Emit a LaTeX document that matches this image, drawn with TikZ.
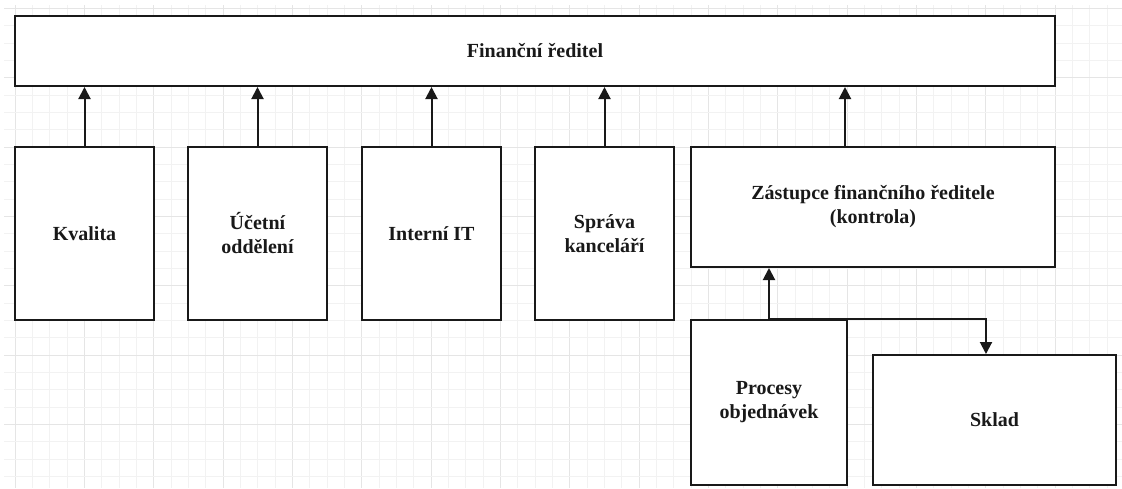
\documentclass[tikz,border=0pt]{standalone}
\usepackage{fontspec}
\setmainfont{Liberation Serif}
\usetikzlibrary{arrows.meta}
\begin{document}
\begin{tikzpicture}[x=1pt,y=-1pt,
  box/.style={draw=black!90, line width=2pt, fill=white, inner sep=0pt, align=center,
    font=\fontsize{20}{24}\selectfont\bfseries, text=black!90},
  arr/.style={line width=2pt, draw=black!90, -{Triangle[width=12pt,length=12pt]}},
  minorgrid/.style={draw=black!5, line width=0.6pt},
  majorgrid/.style={draw=black!10, line width=0.8pt}]
\useasboundingbox (0,0) rectangle (1122,488);
\fill[white] (0,0) rectangle (1122,488);
\begin{scope}
  \clip (4,5) rectangle (1122,488);
  \foreach \i in {0,...,64} {
    \pgfmathtruncatemacro{\m}{mod(\i,4)}
    \ifnum\m=0 \draw[majorgrid] ({15+\i*17.333},5) -- ++(0,483);
    \else \draw[minorgrid] ({15+\i*17.333},5) -- ++(0,483); \fi
  }
  \foreach \i in {-8,...,20} {
    \pgfmathtruncatemacro{\m}{mod(\i+16,4)}
    \ifnum\m=0 \draw[majorgrid] (4,{147+\i*17.333}) -- ++(1118,0);
    \else \draw[minorgrid] (4,{147+\i*17.333}) -- ++(1118,0); \fi
  }
\end{scope}

\node[box, minimum width=1040pt, minimum height=70pt] (top) at (535,51) {Finanční ředitel};
\node[box, minimum width=139pt, minimum height=173pt] (kv) at (84.5,233.5) {Kvalita};
\node[box, minimum width=139pt, minimum height=173pt] (uc) at (257.5,233.5) {Účetní\\oddělení};
\node[box, minimum width=139pt, minimum height=173pt] (it) at (431.5,233.5) {Interní IT};
\node[box, minimum width=139pt, minimum height=173pt] (sp) at (604.5,233.5) {Správa\\kanceláří};
\node[box, minimum width=364pt, minimum height=120pt] (za) at (873,207) {Zástupce finančního ředitele\\(kontrola)};
\node[box, minimum width=156pt, minimum height=165pt] (pr) at (769,402.5) {Procesy\\objednávek};
\node[box, minimum width=243pt, minimum height=130pt] (sk) at (994.5,420) {Sklad};

\draw[arr] (kv.north) -- (kv.north |- top.south);
\draw[arr] (uc.north) -- (uc.north |- top.south);
\draw[arr] (it.north) -- (it.north |- top.south);
\draw[arr] (sp.north) -- (sp.north |- top.south);
\coordinate (zaout) at ([xshift=-28pt]za.north);
\draw[arr] (zaout) -- (zaout |- top.south);
\draw[arr] (pr.north) -- (pr.north |- za.south);
\coordinate (skin) at ([xshift=-8.5pt]sk.north);
\draw[arr] (pr.north) -| (skin);
\end{tikzpicture}
\end{document}
